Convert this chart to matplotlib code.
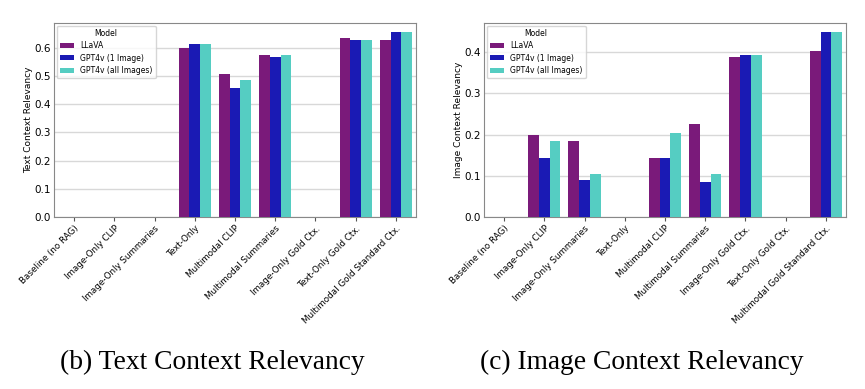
import matplotlib
matplotlib.use("Agg")
import matplotlib.pyplot as plt
import numpy as np

categories = ["Baseline (no RAG)", "Image-Only CLIP", "Image-Only Summaries", "Text-Only",
              "Multimodal CLIP", "Multimodal Summaries", "Image-Only Gold Ctx.",
              "Text-Only Gold Ctx.", "Multimodal Gold Standard Ctx."]
models = ["LLaVA", "GPT4v (1 Image)", "GPT4v (all Images)"]

text_llava = [0, 0, 0, 0.598, 0.508, 0.572, 0, 0.633, 0.628]
text_gpt1 = [0, 0, 0, 0.614, 0.458, 0.565, 0, 0.628, 0.654]
text_gptall = [0, 0, 0, 0.614, 0.484, 0.572, 0, 0.628, 0.654]

img_llava = [0, 0.199, 0.185, 0, 0.144, 0.225, 0.389, 0, 0.404]
img_gpt1 = [0, 0.144, 0.089, 0, 0.144, 0.084, 0.394, 0, 0.449]
img_gptall = [0, 0.185, 0.105, 0, 0.204, 0.105, 0.394, 0, 0.449]

colors = ["#7a1a7a", "#1a1ab4", "#55cdc2"]

fig = plt.figure(figsize=(8.65, 3.89), dpi=100)
W, H = 865, 389
ax1 = fig.add_axes([54 / W, 1 - 217 / H, 362 / W, 194 / H])
ax2 = fig.add_axes([484 / W, 1 - 217 / H, 362 / W, 194 / H])

def draw(ax, series, ylabel, yticks):
    x = np.arange(len(categories))
    w = 0.8 / 3
    for i, (vals, name, c) in enumerate(zip(series, models, colors)):
        ax.bar(x + (i - 1) * w, vals, width=w, color=c, label=name, zorder=3)
    ax.set_xlim(-0.5, len(categories) - 0.5)
    ax.set_xticks(x)
    ax.set_xticklabels(categories, rotation=45, ha="right", rotation_mode="anchor", fontsize=6.3)
    ax.set_yticks(yticks)
    ax.set_yticklabels([f"{t:.1f}" for t in yticks], fontsize=7.5)
    ax.set_ylabel(ylabel, fontsize=6.5, labelpad=1)
    ax.yaxis.grid(True, color="#d8d8d8", linewidth=1, zorder=0)
    ax.set_axisbelow(True)
    for s in ax.spines.values():
        s.set_color("#888888")
    ax.tick_params(axis="x", length=3, color="#555555", pad=2)
    ax.tick_params(axis="y", length=0, pad=2.5)
    ax.legend(title="Model", loc="upper left", fontsize=5.5, title_fontsize=5.5,
              handlelength=1.9, handleheight=0.6, borderaxespad=0.35, framealpha=0.8,
              labelspacing=0.45, borderpad=0.4)

draw(ax1, [text_llava, text_gpt1, text_gptall], "Text Context Relevancy",
     [0.0, 0.1, 0.2, 0.3, 0.4, 0.5, 0.6])
ax1.set_ylim(0, 0.687)
draw(ax2, [img_llava, img_gpt1, img_gptall], "Image Context Relevancy",
     [0.0, 0.1, 0.2, 0.3, 0.4])
ax2.set_ylim(0, 0.471)

fig.text(212 / W, 1 - 362 / H, "(b) Text Context Relevancy", ha="center", va="center",
         fontsize=19.8, family="Liberation Serif")
fig.text(642 / W, 1 - 362 / H, "(c) Image Context Relevancy", ha="center", va="center",
         fontsize=19.8, family="Liberation Serif")

fig.savefig("out.png", dpi=100)
